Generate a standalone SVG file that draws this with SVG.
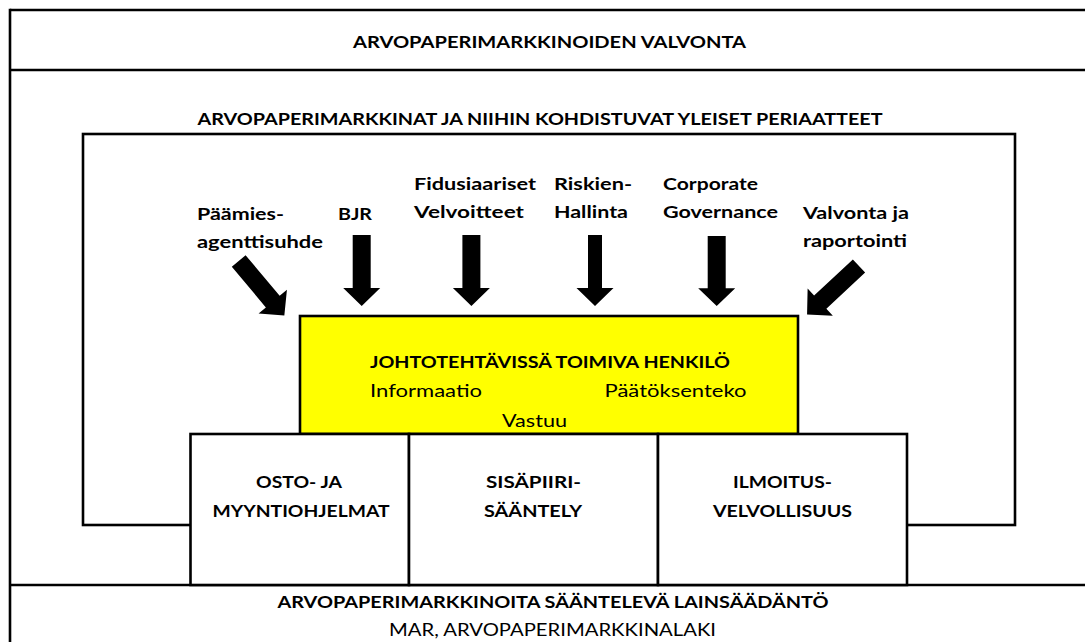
<svg xmlns="http://www.w3.org/2000/svg" width="1085" height="642" viewBox="0 0 1085 642">
  <style>
    .ln { stroke: #000; stroke-width: 2.6; fill: none; }
    .box { stroke: #000; stroke-width: 2.6; fill: #fff; }
    .yel { stroke: #000; stroke-width: 2.6; fill: #ffff00; }
    .b { font-family: Lato, "Liberation Sans", sans-serif; font-weight: bold; font-size: 17.5px; fill: #000; }
    .r { font-family: Lato, "Liberation Sans", sans-serif; font-weight: normal; font-size: 17.5px; fill: #000; }
    .arr { fill: #000; }
  </style>
  <defs>
    <polygon id="arrow" points="-9,0 9,0 9,53 18.5,53 0,71 -18.5,53 -9,53"/>
    <polygon id="arrowThin" points="-7,0 7,0 7,53 18.5,53 0,71 -18.5,53 -7,53"/>
  </defs>
  <rect width="1085" height="642" fill="#fff"/>

  <g id="frame">
    <line class="ln" x1="10" y1="10" x2="1085" y2="10"/>
    <line class="ln" x1="10" y1="70" x2="1085" y2="70"/>
    <line class="ln" x1="10" y1="8.7" x2="10" y2="642"/>
    <line class="ln" x1="10" y1="585" x2="1085" y2="585"/>
    <text class="b" x="549.5" y="48" text-anchor="middle" textLength="393" lengthAdjust="spacingAndGlyphs">ARVOPAPERIMARKKINOIDEN VALVONTA</text>
    <text class="b" x="540" y="125" text-anchor="middle" textLength="685" lengthAdjust="spacingAndGlyphs">ARVOPAPERIMARKKINAT JA NIIHIN KOHDISTUVAT YLEISET PERIAATTEET</text>
    <text class="b" x="553" y="608" text-anchor="middle" textLength="551" lengthAdjust="spacingAndGlyphs">ARVOPAPERIMARKKINOITA SÄÄNTELEVÄ LAINSÄÄDÄNTÖ</text>
    <text class="r" x="552.5" y="636" text-anchor="middle" textLength="327" lengthAdjust="spacingAndGlyphs">MAR, ARVOPAPERIMARKKINALAKI</text>
  </g>

  <g id="principles">
    <rect class="box" x="83" y="134" width="932" height="391"/>
  </g>

  <g id="labels">
    <text class="b" x="197" y="220" textLength="87" lengthAdjust="spacingAndGlyphs">Päämies-</text>
    <text class="b" x="197" y="248" textLength="126" lengthAdjust="spacingAndGlyphs">agenttisuhde</text>
    <text class="b" x="338" y="220" textLength="34" lengthAdjust="spacingAndGlyphs">BJR</text>
    <text class="b" x="414" y="190" textLength="122" lengthAdjust="spacingAndGlyphs">Fidusiaariset</text>
    <text class="b" x="414" y="218" textLength="110" lengthAdjust="spacingAndGlyphs">Velvoitteet</text>
    <text class="b" x="554" y="190" textLength="78" lengthAdjust="spacingAndGlyphs">Riskien-</text>
    <text class="b" x="554" y="218" textLength="74" lengthAdjust="spacingAndGlyphs">Hallinta</text>
    <text class="b" x="663" y="190" textLength="95" lengthAdjust="spacingAndGlyphs">Corporate</text>
    <text class="b" x="663" y="218" textLength="115" lengthAdjust="spacingAndGlyphs">Governance</text>
    <text class="b" x="803" y="219" textLength="106" lengthAdjust="spacingAndGlyphs">Valvonta ja</text>
    <text class="b" x="803" y="247" textLength="104" lengthAdjust="spacingAndGlyphs">raportointi</text>
  </g>

  <g id="connectors">
    <use href="#arrow" class="arr" transform="translate(238.7,261) rotate(-40)"/>
    <use href="#arrow" class="arr" transform="translate(361.7,235)"/>
    <use href="#arrow" class="arr" transform="translate(471.4,235)"/>
    <use href="#arrowThin" class="arr" transform="translate(595,235)"/>
    <use href="#arrow" class="arr" transform="translate(716.7,236) scale(1,0.986)"/>
    <use href="#arrow" class="arr" transform="translate(859,266) rotate(47)"/>
  </g>

  <g id="manager">
    <rect class="yel" x="300" y="316" width="498" height="118"/>
    <text class="b" x="550" y="368" text-anchor="middle" textLength="360" lengthAdjust="spacingAndGlyphs">JOHTOTEHTÄVISSÄ TOIMIVA HENKILÖ</text>
    <text class="r" x="370" y="397" textLength="112" lengthAdjust="spacingAndGlyphs">Informaatio</text>
    <text class="r" x="604.5" y="397" textLength="142" lengthAdjust="spacingAndGlyphs">Päätöksenteko</text>
    <text class="r" x="502" y="427" textLength="65" lengthAdjust="spacingAndGlyphs">Vastuu</text>
  </g>

  <g id="osto">
    <rect class="box" x="190.5" y="434" width="218.5" height="151"/>
    <text class="b" x="299" y="488" text-anchor="middle" textLength="86" lengthAdjust="spacingAndGlyphs">OSTO- JA</text>
    <text class="b" x="301" y="517" text-anchor="middle" textLength="177" lengthAdjust="spacingAndGlyphs">MYYNTIOHJELMAT</text>
  </g>
  <g id="sisapiiri">
    <rect class="box" x="409" y="434" width="249" height="151"/>
    <text class="b" x="533.5" y="488" text-anchor="middle" textLength="95" lengthAdjust="spacingAndGlyphs">SISÄPIIRI-</text>
    <text class="b" x="533" y="517" text-anchor="middle" textLength="98" lengthAdjust="spacingAndGlyphs">SÄÄNTELY</text>
  </g>
  <g id="ilmoitus">
    <rect class="box" x="658" y="434" width="249" height="151"/>
    <text class="b" x="782.5" y="488" text-anchor="middle" textLength="99" lengthAdjust="spacingAndGlyphs">ILMOITUS-</text>
    <text class="b" x="782.5" y="517" text-anchor="middle" textLength="139" lengthAdjust="spacingAndGlyphs">VELVOLLISUUS</text>
  </g>
</svg>
